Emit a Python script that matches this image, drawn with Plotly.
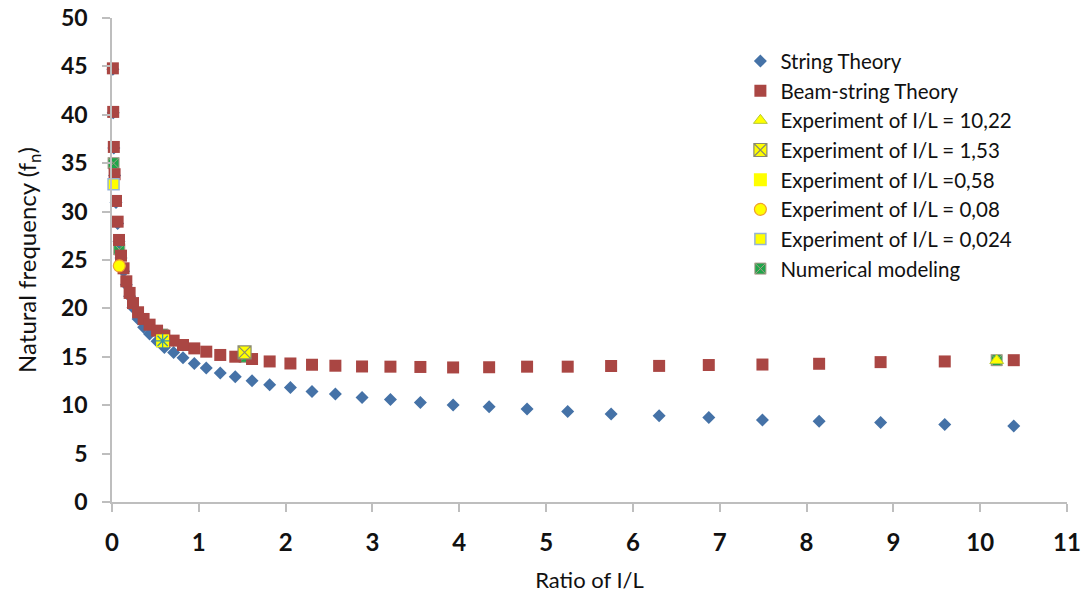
import plotly.graph_objects as go

# Ratio l/L sampled for both theoretical curves
ratio = [0.010, 0.014, 0.021, 0.030, 0.046, 0.065, 0.081, 0.104, 0.133, 0.165,
         0.203, 0.242, 0.300, 0.364, 0.433, 0.519, 0.603, 0.710, 0.818, 0.948,
         1.086, 1.247, 1.420, 1.613, 1.816, 2.055, 2.304, 2.573, 2.880, 3.207,
         3.552, 3.929, 4.344, 4.781, 5.249, 5.749, 6.302, 6.874, 7.492, 8.145,
         8.853, 9.592, 10.387]

# Natural frequency from the string theory
string_theory = [44.70, 40.20, 36.58, 33.72, 30.95, 28.78, 26.90, 25.20, 23.85, 22.45,
                 21.25, 20.10, 18.90, 18.05, 17.35, 16.60, 15.95, 15.45, 14.90, 14.32,
                 13.85, 13.32, 12.95, 12.53, 12.11, 11.83, 11.42, 11.15, 10.80, 10.59,
                 10.28, 10.01, 9.83, 9.60, 9.35, 9.08, 8.90, 8.72, 8.46, 8.35,
                 8.21, 8.00, 7.85]

# Natural frequency from the beam-string theory
beam_string_theory = [44.80, 40.30, 36.68, 33.86, 31.10, 28.96, 27.07, 25.45, 24.14, 22.80,
                      21.60, 20.55, 19.60, 18.91, 18.32, 17.70, 17.18, 16.67, 16.22, 15.87,
                      15.53, 15.19, 15.01, 14.77, 14.52, 14.31, 14.18, 14.08, 14.00, 13.98,
                      13.95, 13.90, 13.92, 13.98, 13.98, 14.05, 14.06, 14.15, 14.20, 14.28,
                      14.45, 14.52, 14.65]

# Experiments (l/L, measured frequency)
exp_1022_x, exp_1022_y = [10.19], [14.62]
exp_153_x, exp_153_y = [1.527], [15.45]
exp_058_x, exp_058_y = [0.583], [16.65]
exp_008_x, exp_008_y = [0.084], [24.40]
exp_0024_x, exp_0024_y = [0.018], [32.83]

# Numerical model results
numerical_x = [0.018, 0.084, 0.583, 1.527, 10.19]
numerical_y = [35.00, 26.10, 17.30, 15.00, 14.65]

x_ticks = list(range(0, 12))
y_ticks = list(range(0, 51, 5))

BLUE = "#4572A7"
RED = "#AA4643"
YELLOW = "#FFFF00"
GREEN = "#1FA64A"

legend_font = dict(family="Lato, sans-serif", size=20.5, color="#111111")

fig = go.Figure()

# numerical points sit underneath the other markers
fig.add_trace(go.Scatter(
    x=numerical_x, y=numerical_y, mode="markers", name="Numerical modeling",
    legendrank=8, cliponaxis=False,
    marker=dict(symbol="square-x", size=11, color=GREEN,
                line=dict(color="#A89888", width=1)),
))
fig.add_trace(go.Scatter(
    x=ratio, y=string_theory, mode="markers", name="String Theory",
    legendrank=1, cliponaxis=False,
    marker=dict(symbol="diamond", size=10, color=BLUE, line=dict(width=0)),
))
fig.add_trace(go.Scatter(
    x=ratio, y=beam_string_theory, mode="markers", name="Beam-string Theory",
    legendrank=2, cliponaxis=False,
    marker=dict(symbol="square", size=12, color=RED, line=dict(width=0)),
))
fig.add_trace(go.Scatter(
    x=exp_1022_x, y=exp_1022_y, mode="markers", name="Experiment of I/L = 10,22",
    legendrank=3, cliponaxis=False,
    marker=dict(symbol="triangle-up", size=12, color=YELLOW,
                line=dict(color="#B5C835", width=1)),
))
fig.add_trace(go.Scatter(
    x=exp_153_x, y=exp_153_y, mode="markers", name="Experiment of I/L = 1,53",
    legendrank=4, cliponaxis=False,
    marker=dict(symbol="square-x", size=13, color=YELLOW,
                line=dict(color="#8A8A70", width=1.2)),
))
fig.add_trace(go.Scatter(
    x=exp_058_x, y=exp_058_y, mode="markers", name="Experiment of I/L =0,58",
    legendrank=5, cliponaxis=False, legendgroup="e058",
    marker=dict(symbol="square", size=13, color=YELLOW, line=dict(width=0)),
))
fig.add_trace(go.Scatter(
    x=exp_058_x, y=exp_058_y, mode="markers", showlegend=False,
    cliponaxis=False, legendgroup="e058", hoverinfo="skip",
    marker=dict(symbol="asterisk-open", size=12, color="#3B92A8",
                line=dict(color="#3B92A8", width=1.3)),
))
fig.add_trace(go.Scatter(
    x=exp_008_x, y=exp_008_y, mode="markers", name="Experiment of I/L = 0,08",
    legendrank=6, cliponaxis=False,
    marker=dict(symbol="circle", size=12, color=YELLOW,
                line=dict(color="#F0A030", width=1.2)),
))
fig.add_trace(go.Scatter(
    x=exp_0024_x, y=exp_0024_y, mode="markers", name="Experiment of I/L = 0,024",
    legendrank=7, cliponaxis=False,
    marker=dict(symbol="square", size=11, color=YELLOW,
                line=dict(color="#95B3D7", width=1.5)),
))

axis_line = dict(showline=True, linecolor="#BEBEBE", linewidth=1.5,
                 ticks="outside", tickcolor="#BEBEBE", ticklen=8, tickwidth=1.5,
                 showgrid=False, zeroline=False)

fig.update_layout(
    width=1084, height=593,
    margin=dict(l=112, r=17, t=18, b=91, autoexpand=False),
    paper_bgcolor="white", plot_bgcolor="white",
    showlegend=True,
    legend=dict(x=0.658, y=0.952, xanchor="left", yanchor="top",
                font=legend_font, bgcolor="rgba(0,0,0,0)",
                itemwidth=30, tracegroupgap=0),
    xaxis=dict(range=[0, 11], tickvals=x_ticks, ticktext=[str(v) for v in x_ticks],
               tickfont=dict(family="Lato, sans-serif", size=24, color="#111111",
                             weight="bold"),
               ticklabelstandoff=10,
               title=dict(text="Ratio of I/L", standoff=19,
                          font=dict(family="Lato, sans-serif", size=22,
                                    color="#111111")),
               **axis_line),
    yaxis=dict(range=[0, 50], tickvals=y_ticks, ticktext=[str(v) for v in y_ticks],
               tickfont=dict(family="Lato, sans-serif", size=23, color="#111111",
                             weight="bold"),
               ticklabelstandoff=10,
               title=dict(text="Natural frequency (f<sub>n</sub>)", standoff=18,
                          font=dict(family="Lato, sans-serif", size=24, color="#111111")),
               **axis_line),
)

fig.write_html("out.html")
